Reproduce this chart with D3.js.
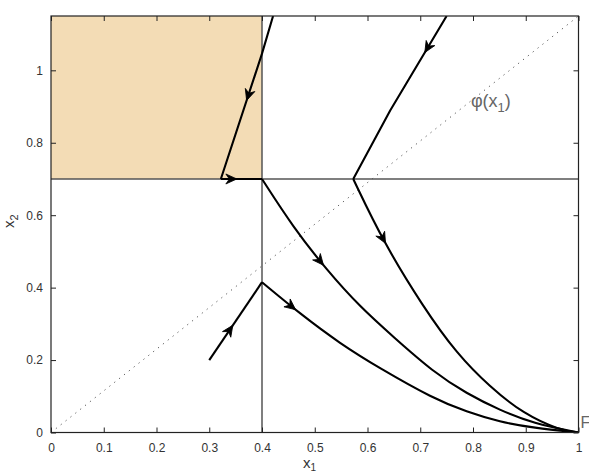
<!DOCTYPE html>
<html>
<head>
<meta charset="utf-8">
<script src="https://cdn.jsdelivr.net/npm/d3@7"></script>
<style>
  body { margin: 0; background: #fff; }
  svg { display: block; font-family: "Liberation Sans", Arial, sans-serif; }
</style>
</head>
<body>
<div id="chart"></div>
<script>
// ---- data ----
const xTicks = [0, 0.1, 0.2, 0.3, 0.4, 0.5, 0.6, 0.7, 0.8, 0.9, 1];
const yTicks = [0, 0.2, 0.4, 0.6, 0.8, 1];
const xDomain = [0, 1];
const yDomain = [0, 1.15];

// shaded region and switching lines
const regionX = [0, 0.4];
const regionY = [0.7, 1.15];
const switchX = 0.4;
const switchY = 0.7;

// dotted curve phi(x1)
const phiLine = [[0, 0], [1, 1.15]];

// trajectories, listed in the direction of motion
const trajLowStart = [[0.3, 0.2], [0.4, 0.415]];
const trajLowCurve = [[0.4, 0.415], [0.472, 0.328], [0.548, 0.2455], [0.624, 0.1766], [0.7246, 0.094],
                      [0.788, 0.057], [0.851, 0.029], [0.914, 0.013], [1, 0]];
const trajLeftDown = [[0.421, 1.15], [0.4, 1.046], [0.322, 0.7]];
const trajLeftSlide = [[0.322, 0.7], [0.4, 0.7]];
const trajMidCurve = [[0.4, 0.7], [0.459, 0.567], [0.523, 0.448], [0.586, 0.3465], [0.649, 0.264],
                      [0.7246, 0.167], [0.788, 0.1076], [0.851, 0.0615], [0.914, 0.025], [1, 0]];
const trajRightDown = [[0.75, 1.15], [0.643, 0.889], [0.573, 0.7]];
const trajRightCurve = [[0.573, 0.7], [0.63, 0.526], [0.706, 0.346], [0.769, 0.218], [0.832, 0.126],
                        [0.895, 0.052], [0.965, 0.006], [1, 0]];

const trajectories = [trajLowStart, trajLowCurve, trajLeftDown, trajLeftSlide,
                      trajMidCurve, trajRightDown, trajRightCurve];
const trajSmooth = [false, true, false, false, true, false, true];

// arrow heads: trajectory index and approximate location
const arrowTraj = [0, 1, 2, 3, 4, 5, 6];
const arrowAt = [[0.3456, 0.295], [0.4626, 0.337], [0.372, 0.917], [0.352, 0.7],
                 [0.516, 0.462], [0.712, 1.047], [0.633, 0.521]];

// ---- layout ----
const width = 589, height = 473;
const margin = { top: 16, right: 10.5, bottom: 40.5, left: 51 };
const innerW = width - margin.left - margin.right;
const innerH = height - margin.top - margin.bottom;

const svg = d3.select("#chart").append("svg")
  .attr("width", width)
  .attr("height", height);

const g = svg.append("g")
  .attr("transform", `translate(${margin.left},${margin.top})`);

const x = d3.scaleLinear().domain(xDomain).range([0, innerW]);
const y = d3.scaleLinear().domain(yDomain).range([innerH, 0]);

svg.append("defs").append("clipPath").attr("id", "plot-clip")
  .append("rect").attr("width", innerW).attr("height", innerH);

// shaded region
g.append("rect")
  .attr("x", x(regionX[0]))
  .attr("y", y(regionY[1]))
  .attr("width", x(regionX[1]) - x(regionX[0]))
  .attr("height", y(regionY[0]) - y(regionY[1]))
  .attr("fill", "#f3dcb5");

// dotted phi line
g.append("path")
  .attr("d", d3.line().x(d => x(d[0])).y(d => y(d[1]))(phiLine))
  .attr("fill", "none")
  .attr("stroke", "#555")
  .attr("stroke-width", 1)
  .attr("stroke-dasharray", "1.2,5");

// switching lines
g.append("line")
  .attr("x1", x(xDomain[0])).attr("x2", x(xDomain[1]))
  .attr("y1", y(switchY)).attr("y2", y(switchY))
  .attr("stroke", "#555").attr("stroke-width", 1.5);
g.append("line")
  .attr("x1", x(switchX)).attr("x2", x(switchX))
  .attr("y1", y(yDomain[0])).attr("y2", y(yDomain[1]))
  .attr("stroke", "#555").attr("stroke-width", 1.5);

// trajectories (smooth ones through a B-spline to even out reading noise)
const smoothLine = d3.line()
  .x(d => x(d[0]))
  .y(d => y(d[1]))
  .curve(d3.curveBasis);
const straightLine = d3.line()
  .x(d => x(d[0]))
  .y(d => y(d[1]));

const trajGroup = g.append("g").attr("clip-path", "url(#plot-clip)");
const paths = trajGroup.selectAll(".traj")
  .data(trajectories)
  .enter()
  .append("path")
  .attr("class", "traj")
  .attr("d", (d, i) => trajSmooth[i] ? smoothLine(d) : straightLine(d))
  .attr("fill", "none")
  .attr("stroke", "#000")
  .attr("stroke-width", 2.1)
  .attr("stroke-linejoin", "round");

// arrow heads placed on the drawn paths, pointing along the motion
const pathNodes = paths.nodes();
arrowAt.forEach((pt, i) => {
  const node = pathNodes[arrowTraj[i]];
  const total = node.getTotalLength();
  const px = x(pt[0]), py = y(pt[1]);
  let best = 0, bestD = Infinity;
  for (let s = 0; s <= total; s += 0.5) {
    const p = node.getPointAtLength(s);
    const dd = (p.x - px) ** 2 + (p.y - py) ** 2;
    if (dd < bestD) { bestD = dd; best = s; }
  }
  const p0 = node.getPointAtLength(Math.max(0, best - 3));
  const p1 = node.getPointAtLength(Math.min(total, best + 3));
  const tip = node.getPointAtLength(best);
  const angle = Math.atan2(p1.y - p0.y, p1.x - p0.x) * 180 / Math.PI;
  g.append("path")
    .attr("d", "M0,0 L-11,-5 L-7.5,0 L-11,5 Z")
    .attr("transform", `translate(${tip.x},${tip.y}) rotate(${angle})`)
    .attr("fill", "#000")
    .attr("stroke", "#000")
    .attr("stroke-width", 0.8)
    .attr("stroke-linejoin", "round");
});

// axes with inward ticks (box style)
const fmt = d => d3.format("")(d);

g.append("g")
  .attr("transform", `translate(0,${innerH})`)
  .call(d3.axisBottom(x).tickValues(xTicks).tickSize(-5).tickSizeOuter(0).tickPadding(11).tickFormat(fmt))
  .call(a => a.select(".domain").remove());

g.append("g")
  .call(d3.axisLeft(y).tickValues(yTicks).tickSize(-5).tickSizeOuter(0).tickPadding(8).tickFormat(fmt))
  .call(a => a.select(".domain").remove());

g.append("g")
  .call(d3.axisTop(x).tickValues(xTicks).tickSize(-5).tickSizeOuter(0).tickFormat(""))
  .call(a => a.select(".domain").remove());

g.append("g")
  .attr("transform", `translate(${innerW},0)`)
  .call(d3.axisRight(y).tickValues(yTicks).tickSize(-5).tickSizeOuter(0).tickFormat(""))
  .call(a => a.select(".domain").remove());

g.selectAll(".tick text")
  .attr("font-size", 12)
  .attr("font-family", "Liberation Sans, Arial, sans-serif")
  .attr("fill", "#333");
g.selectAll(".tick line").attr("stroke", "#222");

// frame
g.append("rect")
  .attr("width", innerW)
  .attr("height", innerH)
  .attr("fill", "none")
  .attr("stroke", "#222")
  .attr("stroke-width", 1.2);

// labels
const phiLabel = g.append("text")
  .attr("x", x(0.796))
  .attr("y", y(0.9))
  .attr("font-size", 18)
  .attr("fill", "#666");
phiLabel.append("tspan").text("φ(x");
phiLabel.append("tspan").attr("dy", 5).attr("font-size", 13).text("1");
phiLabel.append("tspan").attr("dy", -5).text(")");

g.append("text")
  .attr("x", innerW + 2)
  .attr("y", innerH - 5)
  .attr("font-size", 16)
  .attr("fill", "#666")
  .text("F");

const xLabel = svg.append("text")
  .attr("x", 303)
  .attr("y", 468)
  .attr("font-size", 15)
  .attr("fill", "#333");
xLabel.append("tspan").text("x");
xLabel.append("tspan").attr("dy", 3).attr("font-size", 10).text("1");

const yLabel = svg.append("text")
  .attr("transform", "translate(14,228) rotate(-90)")
  .attr("font-size", 15)
  .attr("fill", "#333");
yLabel.append("tspan").text("x");
yLabel.append("tspan").attr("dy", 4).attr("font-size", 11).text("2");
</script>
</body>
</html>
